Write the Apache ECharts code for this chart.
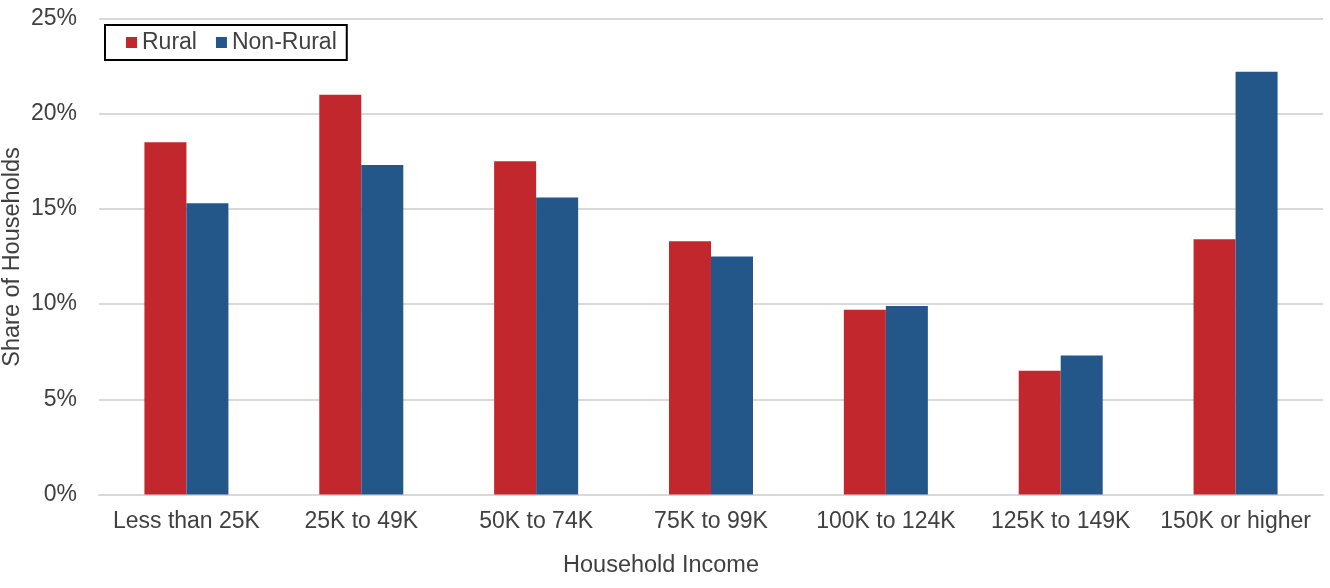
<!DOCTYPE html>
<html>
<head>
<meta charset="utf-8">
<script src="https://cdn.jsdelivr.net/npm/echarts@6/dist/echarts.min.js"></script>
<style>html,body{margin:0;padding:0;background:#fff}#c{width:1330px;height:588px}</style>
</head>
<body>
<div id="c"></div>
<script>
const categories = ["Less than 25K","25K to 49K","50K to 74K","75K to 99K","100K to 124K","125K to 149K","150K or higher"];
const rural = [18.5, 21.0, 17.5, 13.3, 9.7, 6.5, 13.4];
const nonRural = [15.3, 17.3, 15.6, 12.5, 9.9, 7.3, 22.2];
const yTicks = [0, 5, 10, 15, 20, 25];
const yTitle = 'Share of Households';
const xTitle = 'Household Income';

const font = "Liberation Sans";
const fs = 23;
const chart = echarts.init(document.getElementById('c'), null, {renderer: 'canvas'});
chart.setOption({
  animation: false,
  textStyle: {fontFamily: font},
  grid: {left: 99, right: 7, top: 18.5, bottom: 93.5, containLabel: false, outerBoundsMode: 'none'},
  legend: {
    left: 105, top: 25,
    padding: [6, 10, 6, 21],
    borderColor: '#000', borderWidth: 2,
    itemWidth: 11, itemHeight: 11, itemGap: 19,
    icon: 'rect',
    textStyle: {fontSize: fs, color: '#404040', fontFamily: font},
    data: ['Rural', 'Non-Rural']
  },
  graphic: [
    {type: 'text', x: 13, y: 257, rotation: Math.PI / 2,
     style: {text: yTitle, fontSize: 23.5, fontFamily: font, fill: '#404040', align: 'center', verticalAlign: 'middle'}},
    {type: 'text', x: 661, y: 566,
     style: {text: xTitle, fontSize: 23.5, fontFamily: font, fill: '#404040', align: 'center', verticalAlign: 'middle'}}
  ],
  xAxis: {
    type: 'category', data: categories,
    axisLine: {lineStyle: {color: '#d9d9d9', width: 2}},
    axisTick: {show: false},
    axisLabel: {fontSize: fs, color: '#404040', margin: 16, fontFamily: font, interval: 0}
  },
  yAxis: {
    type: 'value', min: yTicks[0], max: yTicks[yTicks.length-1], interval: 5,
    axisLine: {show: false}, axisTick: {show: false},
    axisLabel: {formatter: '{value}%', fontSize: fs, color: '#404040', margin: 22, fontFamily: font},
    splitLine: {lineStyle: {color: '#d9d9d9', width: 2}}
  },
  series: [
    {name: 'Rural', type: 'bar', data: rural, barWidth: 42, barGap: '0%', itemStyle: {color: '#c1272d'}},
    {name: 'Non-Rural', type: 'bar', data: nonRural, barWidth: 42, barGap: '0%', itemStyle: {color: '#235789'}}
  ]
});
</script>
</body>
</html>
